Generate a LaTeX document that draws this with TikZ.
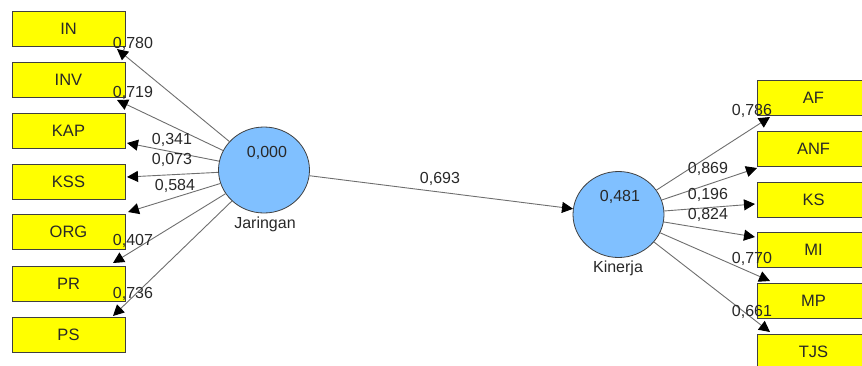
\documentclass[tikz,border=0pt]{standalone}
\usepackage{fontspec}
\setmainfont{Liberation Sans}
\usetikzlibrary{arrows.meta,shapes.geometric}
\definecolor{boxyellow}{RGB}{255,255,0}
\definecolor{lvblue}{RGB}{128,192,255}
\definecolor{linegray}{RGB}{110,110,110}
\definecolor{txt}{RGB}{40,40,40}
\begin{document}
\begin{tikzpicture}[x=1pt,y=-1pt,
  ind/.style={draw=black!75, fill=boxyellow, minimum width=113pt, minimum height=35pt, inner sep=0pt, font=\fontsize{16.5}{19}\selectfont, text=txt, line width=0.8pt},
  lv/.style={ellipse, draw=black!75, fill=lvblue, minimum width=91pt, minimum height=86pt, inner sep=0pt, line width=0.8pt},
  lbl/.style={font=\fontsize{16}{19}\selectfont, text=txt, inner sep=0pt},
  arr/.style={draw=linegray, line width=0.9pt, -{Triangle[length=11pt,width=11pt,color=black]}}]
\useasboundingbox (0,0) rectangle (862,365);
\clip (0,0) rectangle (862,365);
% indicator boxes left
\node[ind] (IN)  at (68.5,28.5) {IN};
\node[ind] (INV) at (68.5,79.5) {INV};
\node[ind] (KAP) at (68.5,130.5) {KAP};
\node[ind] (KSS) at (68.5,181.5) {KSS};
\node[ind] (ORG) at (68.5,232) {ORG};
\node[ind] (PR)  at (68.5,283.5) {PR};
\node[ind] (PS)  at (68.5,334.5) {PS};
% indicator boxes right
\node[ind] (AF)  at (813.5,97.5) {AF};
\node[ind] (ANF) at (813.5,148.5) {ANF};
\node[ind] (KS)  at (813.5,199.5) {KS};
\node[ind] (MI)  at (813.5,250) {MI};
\node[ind] (MP)  at (813.5,300.5) {MP};
\node[ind] (TJS) at (813.5,351.5) {TJS};
% latent variables
\node[lv] (J) at (264,170) {};
\node[lv] (K) at (618.5,214.5) {};
\node[lbl] (Jv) at (267,153) {0,000};
\node[lbl] (Jn) at (265,224) {Jaringan};
\node[lbl] (Kv) at (620,197) {0,481};
\node[lbl] (Kn) at (618,268) {Kinerja};
% arrow tips
\coordinate (tIN) at (117,49);
\coordinate (tINV) at (117,100);
\coordinate (tKAP) at (127,143);
\coordinate (tKSS) at (127,177);
\coordinate (tORG) at (128,212);
\coordinate (tPR) at (113,263);
\coordinate (tPS) at (113,316);
\coordinate (tAF) at (770,117);
\coordinate (tANF) at (757,168);
\coordinate (tKS) at (755,204);
\coordinate (tMI) at (755,237);
\coordinate (tMP) at (770,281);
\coordinate (tTJS) at (770,332);
% connectors
\foreach \t in {IN,INV,KAP,KSS,ORG,PR,PS} \draw[arr] (J) -- (t\t);
\foreach \t in {AF,ANF,KS,MI,MP,TJS} \draw[arr] (K) -- (t\t);
\draw[arr] (J) -- (K);
% loadings
\node[lbl] (lIN) at (133,44) {0,780};
\node[lbl] (lINV) at (133,93) {0,719};
\node[lbl] (lKAP) at (172,140) {0,341};
\node[lbl] (lKSS) at (172,160) {0,073};
\node[lbl] (lORG) at (175,186) {0,584};
\node[lbl] (lPR) at (133,241) {0,407};
\node[lbl] (lPS) at (133,294) {0,736};
\node[lbl] (lJK) at (440,179) {0,693};
\node[lbl] (lAF) at (752,111) {0,786};
\node[lbl] (lANF) at (708,169) {0,869};
\node[lbl] (lKS) at (708,195) {0,196};
\node[lbl] (lMI) at (708,215) {0,824};
\node[lbl] (lMP) at (752,259) {0,770};
\node[lbl] (lTJS) at (752,312) {0,661};
\end{tikzpicture}
\end{document}
